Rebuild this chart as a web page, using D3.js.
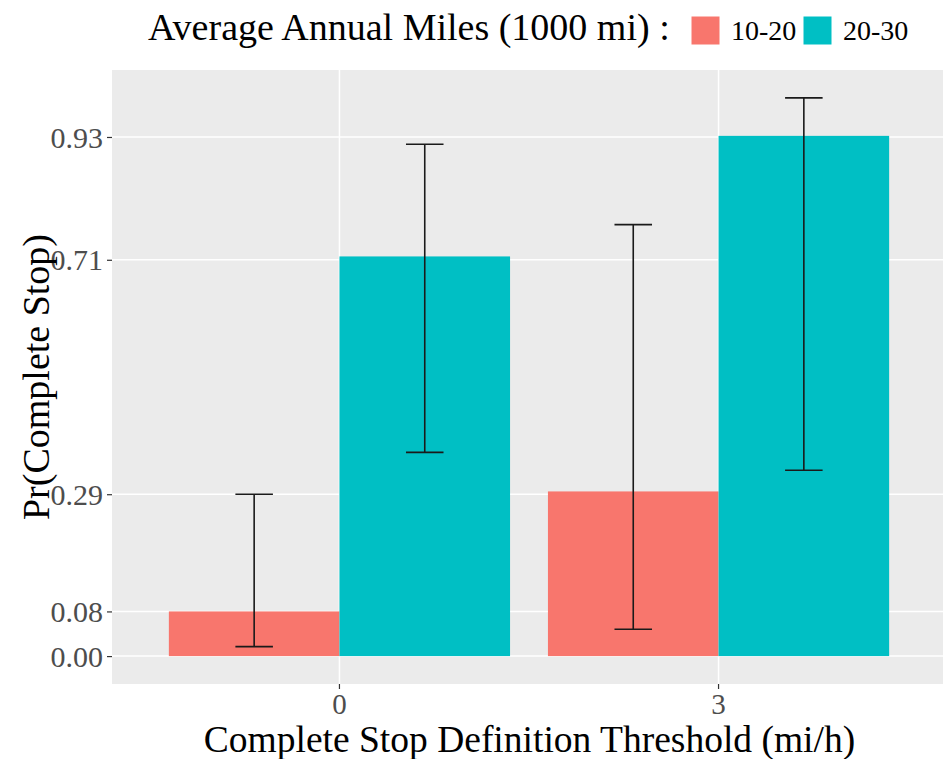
<!DOCTYPE html>
<html>
<head>
<meta charset="utf-8">
<script src="https://cdn.jsdelivr.net/npm/d3@7"></script>
<style>
  html, body { margin: 0; padding: 0; background: #ffffff; }
  svg { display: block; }
</style>
</head>
<body>
<svg id="chart" width="943" height="759"></svg>
<script>
// Thresholds on the x axis and the mileage groups within each
const thresholds = ["0", "3"];
const groups = ["10-20", "20-30"];
const groupColors = ["#F8766D", "#00BFC4"];

// Estimated probability of a complete stop, per threshold and group
const prob10to20 = [0.08, 0.295];
const prob20to30 = [0.716, 0.932];

// Interval bounds for each bar
const lower10to20 = [0.017, 0.048];
const upper10to20 = [0.29, 0.773];
const lower20to30 = [0.365, 0.333];
const upper20to30 = [0.917, 1.0];

// Tick labels on the y axis
const yTicks = [0.00, 0.08, 0.29, 0.71, 0.93];

const rows = [];
thresholds.forEach((t, i) => {
  rows.push({ threshold: t, group: groups[0], value: prob10to20[i], lo: lower10to20[i], hi: upper10to20[i] });
  rows.push({ threshold: t, group: groups[1], value: prob20to30[i], lo: lower20to30[i], hi: upper20to30[i] });
});

const serif = "'Liberation Serif'";
const svg = d3.select("#chart");
const panel = { left: 112, top: 70, right: 946, bottom: 684 };

const x = d3.scaleBand()
  .domain(thresholds)
  .range([panel.left, panel.right])
  .paddingInner(0.1)
  .paddingOuter(0.15);

const xSub = d3.scaleBand()
  .domain(groups)
  .range([0, x.bandwidth()])
  .padding(0);

const y = d3.scaleLinear()
  .domain([-0.05, 1.05])
  .range([panel.bottom, panel.top]);

const color = d3.scaleOrdinal().domain(groups).range(groupColors);

// Panel background
svg.append("rect")
  .attr("x", panel.left)
  .attr("y", panel.top)
  .attr("width", panel.right - panel.left)
  .attr("height", panel.bottom - panel.top)
  .attr("fill", "#EBEBEB");

// Grid lines
const grid = svg.append("g");
grid.selectAll("line.h")
  .data(yTicks)
  .join("line")
  .attr("class", "h")
  .attr("x1", panel.left).attr("x2", panel.right)
  .attr("y1", d => y(d)).attr("y2", d => y(d))
  .attr("stroke", "#ffffff").attr("stroke-width", 1.5);
grid.selectAll("line.v")
  .data(thresholds)
  .join("line")
  .attr("class", "v")
  .attr("y1", panel.top).attr("y2", panel.bottom)
  .attr("x1", d => x(d) + x.bandwidth() / 2).attr("x2", d => x(d) + x.bandwidth() / 2)
  .attr("stroke", "#ffffff").attr("stroke-width", 1.5);

// Bars
svg.append("g")
  .selectAll("rect")
  .data(rows)
  .join("rect")
  .attr("x", d => x(d.threshold) + xSub(d.group))
  .attr("width", xSub.bandwidth())
  .attr("y", d => y(d.value))
  .attr("height", d => y(0) - y(d.value))
  .attr("fill", d => color(d.group));

// Error bars
const capHalf = xSub.bandwidth() * 0.11;
const eb = svg.append("g")
  .attr("stroke", "#1a1a1a")
  .attr("stroke-width", 1.6)
  .selectAll("g")
  .data(rows)
  .join("g")
  .attr("transform", d => `translate(${x(d.threshold) + xSub(d.group) + xSub.bandwidth() / 2},0)`);
eb.append("line")
  .attr("x1", 0).attr("x2", 0)
  .attr("y1", d => y(d.lo)).attr("y2", d => y(d.hi));
eb.append("line")
  .attr("x1", -capHalf).attr("x2", capHalf)
  .attr("y1", d => y(d.hi)).attr("y2", d => y(d.hi));
eb.append("line")
  .attr("x1", -capHalf).attr("x2", capHalf)
  .attr("y1", d => y(d.lo)).attr("y2", d => y(d.lo));

// Y axis
const yAxis = svg.append("g")
  .attr("transform", `translate(${panel.left},0)`)
  .call(d3.axisLeft(y).tickValues(yTicks).tickFormat(d3.format(".2f")).tickSize(5).tickPadding(4));
yAxis.select(".domain").remove();
yAxis.selectAll(".tick line").attr("stroke", "#333333").attr("stroke-width", 1.2);
yAxis.selectAll(".tick text")
  .attr("fill", "#4D4D4D")
  .attr("dy", "0.34em")
  .style("font-family", serif)
  .style("font-size", "30px");

// X axis
const xAxis = svg.append("g")
  .attr("transform", `translate(0,${panel.bottom})`)
  .call(d3.axisBottom(x).tickSize(5));
xAxis.select(".domain").remove();
xAxis.selectAll(".tick line").attr("stroke", "#333333").attr("stroke-width", 1.2);
xAxis.selectAll(".tick text")
  .attr("fill", "#4D4D4D")
  .attr("y", 30)
  .attr("dy", 0)
  .style("font-family", serif)
  .style("font-size", "29px");

// Axis titles
svg.append("text")
  .attr("x", (panel.left + 943) / 2 + 2)
  .attr("y", 752)
  .attr("text-anchor", "middle")
  .attr("fill", "#000000")
  .style("font-family", serif)
  .style("font-size", "37.5px")
  .text("Complete Stop Definition Threshold (mi/h)");

svg.append("text")
  .attr("transform", `translate(49,${(panel.top + panel.bottom) / 2}) rotate(-90)`)
  .attr("text-anchor", "middle")
  .attr("fill", "#000000")
  .style("font-family", serif)
  .style("font-size", "38px")
  .text("Pr(Complete Stop)");

// Legend across the top
const legend = svg.append("g");
legend.append("text")
  .attr("x", 148)
  .attr("y", 40)
  .attr("fill", "#000000")
  .style("font-family", serif)
  .style("font-size", "38px")
  .text("Average Annual Miles (1000 mi) :");

const keyX = [691, 803];
const item = legend.selectAll("g.item")
  .data(groups)
  .join("g")
  .attr("class", "item")
  .attr("transform", (d, i) => `translate(${keyX[i]},16)`);
item.append("rect")
  .attr("width", 29).attr("height", 29)
  .attr("fill", d => color(d))
  .attr("stroke", "#ffffff").attr("stroke-width", 1);
item.append("text")
  .attr("x", 40)
  .attr("y", 24)
  .attr("fill", "#000000")
  .style("font-family", serif)
  .style("font-size", "28px")
  .text(d => d);
</script>
</body>
</html>
